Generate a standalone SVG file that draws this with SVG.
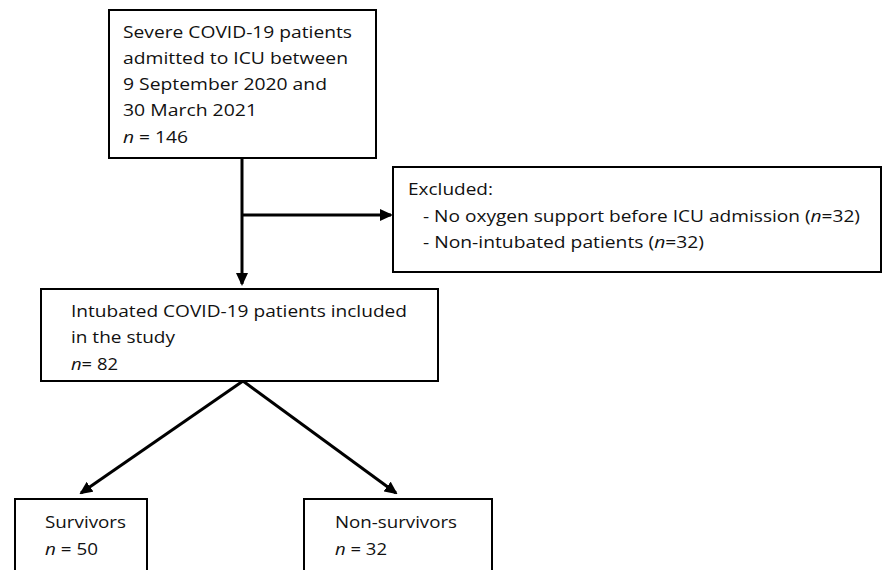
<svg xmlns="http://www.w3.org/2000/svg" width="883" height="570" viewBox="0 0 883 570">
<style>
.box{fill:#fff;stroke:#000;stroke-width:2}
.t{font-family:"Open Sans","Liberation Sans",sans-serif;font-size:17px;fill:#111}
.i{font-style:italic}
.c{stroke:#000;stroke-width:3;fill:none}
</style>
<defs>
<marker id="ah" markerWidth="13" markerHeight="12" refX="11" refY="6" orient="auto" markerUnits="userSpaceOnUse" viewBox="0 0 13 12">
<path d="M0,0 L13,6 L0,12 z" fill="#000"/>
</marker>
</defs>
<rect width="883" height="570" fill="#fff"/>
<g id="connectors">
<line class="c" x1="242" y1="159" x2="242" y2="284" marker-end="url(#ah)"/>
<line class="c" x1="242" y1="215" x2="391" y2="215" marker-end="url(#ah)"/>
<line class="c" x1="243" y1="381" x2="81" y2="493" marker-end="url(#ah)"/>
<line class="c" x1="243" y1="381" x2="396" y2="493" marker-end="url(#ah)"/>
</g>
<g id="n_screened">
<rect class="box" x="109" y="10" width="267" height="148"/>
<text class="t" x="123" y="38" textLength="229" lengthAdjust="spacingAndGlyphs">Severe COVID-19 patients</text>
<text class="t" x="123" y="64" textLength="225" lengthAdjust="spacingAndGlyphs">admitted to ICU between</text>
<text class="t" x="123" y="90" textLength="204" lengthAdjust="spacingAndGlyphs">9 September 2020 and</text>
<text class="t" x="123" y="116" textLength="134" lengthAdjust="spacingAndGlyphs">30 March 2021</text>
<text class="t" x="123" y="143" textLength="65" lengthAdjust="spacingAndGlyphs"><tspan class="i">n</tspan> = 146</text>
</g>
<g id="n_excluded">
<rect class="box" x="393" y="167" width="488" height="105"/>
<text class="t" x="408" y="195" textLength="85" lengthAdjust="spacingAndGlyphs">Excluded:</text>
<text class="t" x="423" y="222" textLength="437" lengthAdjust="spacingAndGlyphs">- No oxygen support before ICU admission (<tspan class="i">n</tspan>=32)</text>
<text class="t" x="423" y="248" textLength="281" lengthAdjust="spacingAndGlyphs">- Non-intubated patients (<tspan class="i">n</tspan>=32)</text>
</g>
<g id="n_included">
<rect class="box" x="41" y="289" width="397" height="92"/>
<text class="t" x="71" y="317" textLength="336" lengthAdjust="spacingAndGlyphs">Intubated COVID-19 patients included</text>
<text class="t" x="71" y="343" textLength="104" lengthAdjust="spacingAndGlyphs">in the study</text>
<text class="t" x="71" y="370" textLength="47" lengthAdjust="spacingAndGlyphs"><tspan class="i">n</tspan>= 82</text>
</g>
<g id="n_survivors">
<rect class="box" x="15" y="499" width="132" height="80"/>
<text class="t" x="45" y="528" textLength="81" lengthAdjust="spacingAndGlyphs">Survivors</text>
<text class="t" x="45" y="555" textLength="53" lengthAdjust="spacingAndGlyphs"><tspan class="i">n</tspan> = 50</text>
</g>
<g id="n_nonsurvivors">
<rect class="box" x="304" y="499" width="188" height="80"/>
<text class="t" x="335" y="528" textLength="122" lengthAdjust="spacingAndGlyphs">Non-survivors</text>
<text class="t" x="335" y="555" textLength="52" lengthAdjust="spacingAndGlyphs"><tspan class="i">n</tspan> = 32</text>
</g>
</svg>
